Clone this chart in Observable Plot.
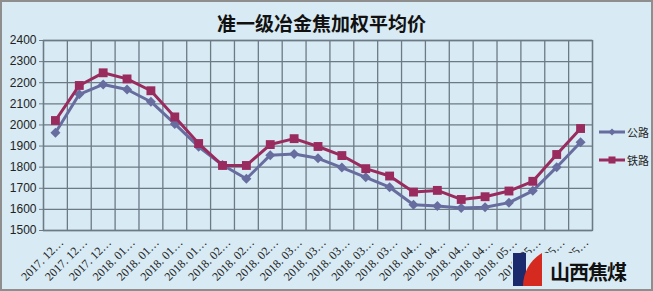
<!DOCTYPE html>
<html>
<head>
<meta charset="utf-8">
<script src="https://cdn.jsdelivr.net/npm/d3@7"></script>
<script src="https://cdn.jsdelivr.net/npm/@observablehq/plot@0.6"></script>
<style>
  body { margin: 0; }
  #wrap { position: relative; width: 653px; height: 291px; background: #d8eaf3; overflow: hidden; }
  #chart svg { position: absolute; left: 0; top: 0; background: transparent; }
  #title { position: absolute; left: 0; top: 9px; width: 643px; text-align: center; font: bold 19px "Noto Sans CJK SC", sans-serif; color: #111; }
  #border { position: absolute; left: 0; top: 0; width: 653px; height: 291px; box-sizing: border-box; border: 2px solid #8e8e8e; pointer-events: none; }
  .leg { position: absolute; font: 11px "Noto Sans CJK SC", sans-serif; color: #222; display: flex; align-items: center; white-space: nowrap; }
  .leg svg { flex-shrink: 0; }
  #logo { position: absolute; left: 512px; top: 253px; width: 118px; height: 34px; background: #d8eaf3; }
  #logo span { position: absolute; left: 38px; top: 5px; font: bold 20px "Noto Sans CJK SC", sans-serif; color: #111; letter-spacing: -1px; line-height: 28px; }
</style>
</head>
<body>
<div id="wrap">
  <div id="chart"></div>
  <div id="title">准一级冶金焦加权平均价</div>
  <div class="leg" style="left:599px; top:124px;"><svg width="26" height="16"><line x1="0" x2="26" y1="8" y2="8" stroke="#676d9f" stroke-width="3"/><path d="M13,4.5L16.5,8L13,11.5L9.5,8Z" fill="#676d9f"/></svg><span style="margin-left:2px">公路</span></div>
  <div class="leg" style="left:599px; top:152px;"><svg width="26" height="16"><line x1="0" x2="26" y1="8" y2="8" stroke="#9a2b5f" stroke-width="3"/><rect x="9.5" y="4.5" width="7" height="7" fill="#9a2b5f"/></svg><span style="margin-left:2px">铁路</span></div>
  <div id="logo">
    <svg width="36" height="34" style="position:absolute;left:0;top:0">
      <rect x="1" y="0" width="13" height="33" fill="#1a2a6c"/>
      <path d="M30,0 L30,33 L11,33 C11,20 18,7 30,0 Z" fill="#d42a20"/>
    </svg>
    <span>山西焦煤</span>
  </div>
  <div id="border"></div>
</div>
<script>
const categories = [
  "2017. 12…","2017. 12…","2017. 12…",
  "2018. 01…","2018. 01…","2018. 01…","2018. 01…",
  "2018. 02…","2018. 02…","2018. 02…",
  "2018. 03…","2018. 03…","2018. 03…","2018. 03…","2018. 03…",
  "2018. 04…","2018. 04…","2018. 04…","2018. 04…",
  "2018. 05…","2018. 05…","2018. 05…","2018. 05…"
];
const highway = [1963,2145,2192,2168,2110,2005,1897,1810,1745,1857,1862,1842,1798,1752,1705,1622,1616,1607,1610,1632,1688,1800,1918];
const railway = [2021,2187,2247,2218,2162,2038,1912,1808,1808,1907,1935,1898,1855,1793,1758,1682,1690,1647,1660,1687,1733,1860,1983];
const yTicks = d3.range(1500, 2401, 100);

const data = categories.map((c, i) => ({pos: i + 0.5, label: c, highway: highway[i], railway: railway[i]}));
const gridC = "#6c7a86";

const chart = Plot.plot({
  width: 653, height: 291,
  marginLeft: 43, marginTop: 40, marginRight: 61, marginBottom: 61,
  style: {background: "transparent", overflow: "visible"},
  x: {type: "linear", domain: [0, categories.length]},
  y: {domain: [1500, 2400]},
  marks: [
    Plot.gridY(yTicks, {stroke: gridC, strokeOpacity: 1, strokeWidth: 1.3}),
    Plot.gridX(d3.range(0, categories.length + 1), {stroke: gridC, strokeOpacity: 1, strokeWidth: 1.3}),
    Plot.frame({stroke: gridC, strokeWidth: 1.3}),
    Plot.axisY({ticks: yTicks, tickSize: 4, stroke: gridC, tickFormat: d3.format("d"), fontSize: 12, fontFamily: "Liberation Sans, sans-serif", fill: "#222", tickPadding: 3}),
    Plot.axisX({ticks: data.map(d => d.pos), tickSize: 0, tickRotate: -45, tickFormat: v => categories[Math.floor(v)], fontSize: 12, fontFamily: "Liberation Serif, serif", fill: "#222", tickPadding: 6, dx: 6, dy: 4, label: null}),
    Plot.lineY(data, {x: "pos", y: "highway", stroke: "#676d9f", strokeWidth: 3}),
    Plot.dot(data, {x: "pos", y: "highway", symbol: "diamond2", r: 4.5, fill: "#676d9f"}),
    Plot.lineY(data, {x: "pos", y: "railway", stroke: "#9a2b5f", strokeWidth: 3}),
    Plot.dot(data, {x: "pos", y: "railway", symbol: "square", r: 5, fill: "#9a2b5f"})
  ]
});
document.getElementById("chart").appendChild(chart);
</script>
</body>
</html>
